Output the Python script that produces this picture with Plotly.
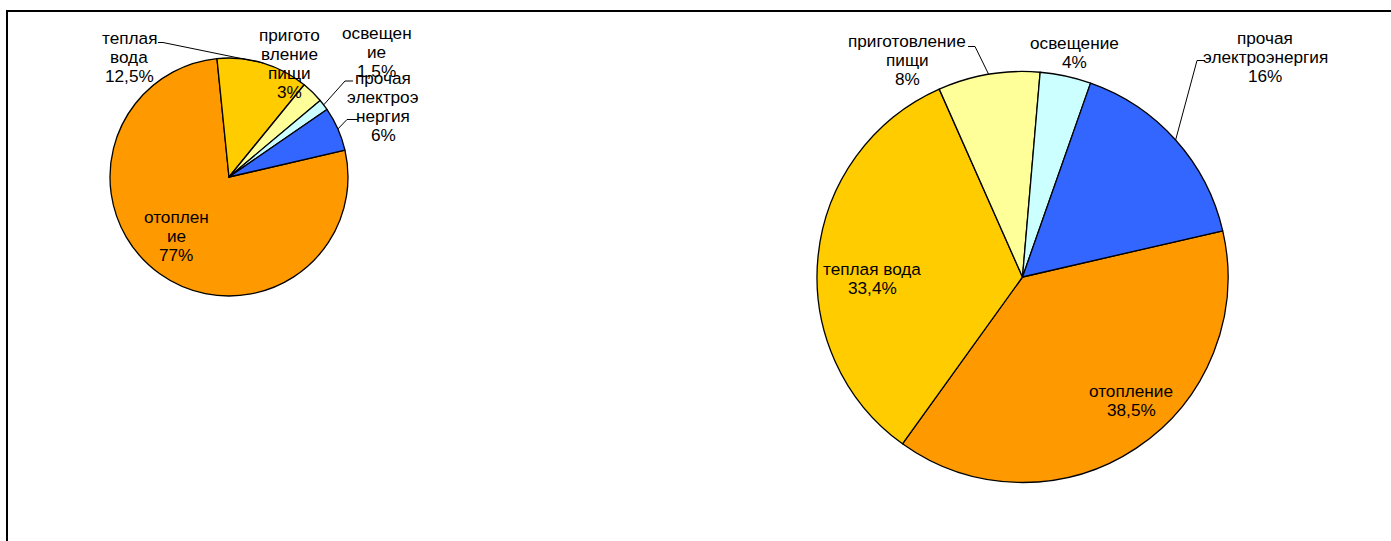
import math
import plotly.graph_objects as go

# Energy use structure, percent
categories = ["отопление", "теплая вода", "приготовление пищи", "освещение", "прочая электроэнергия"]
colors = ["#FF9900", "#FFCC00", "#FFFF99", "#CCFFFF", "#3366FF"]

left_values = [77, 12.5, 3, 1.5, 6]
left_names = [["отоплен", "ие"], ["теплая", "вода"], ["пригото", "вление", "пищи"], ["освещен", "ие"],
              ["прочая", "электроэ", "нергия"]]

right_values = [38.5, 33.4, 8, 4, 16]
right_names = [["отопление"], ["теплая вода"], ["приготовление", "пищи"], ["освещение"],
               ["прочая", "электроэнергия"]]

W, H = 1391, 541
FONT = "Liberation Sans, Arial, sans-serif"
FONT_SIZE = 17.2
LINE_STEP = 19
ROTATION = 77

# pie geometry in pixels: centre x, centre y, radius
left_geo = (229, 177, 119)
right_geo = (1022.5, 277, 205.5)

# label block centres in pixels, same order as categories
left_label_pos = [(176, 236), (129, 57), (289, 63), (377, 52), (383, 106)]
right_label_pos = [(1131, 400), (872, 278), (907, 60), (1074, 52), (1265, 57)]

# leader lines: category index, label-side start (px), elbow (px)
left_leaders = [(1, (158, 42.5), (163, 42.5)), (3, (353, 81), (345, 81)), (4, (358, 119.5), (347, 119.5))]
right_leaders = [(2, (968, 46.5), (975, 46.5)), (4, (1205, 60.5), (1197, 60.5))]


def px(x):
    return x / W


def py(y):
    return 1 - y / H


def pct(v):
    return f"{v:g}".replace(".", ",") + "%"


def mid_edge(geo, values, idx):
    cx, cy, r = geo
    total = sum(values)
    before = sum(values[:idx])
    a = math.radians(ROTATION + 360 * (before + values[idx] / 2) / total)
    return cx + r * math.sin(a), cy - r * math.cos(a)


def domain(geo):
    cx, cy, r = geo
    return dict(x=[px(cx - r), px(cx + r)], y=[py(cy + r), py(cy - r)])


fig = go.Figure()
for values, geo in ((left_values, left_geo), (right_values, right_geo)):
    fig.add_trace(go.Pie(
        labels=categories, values=values, sort=False, direction="clockwise",
        rotation=ROTATION, domain=domain(geo), textinfo="none", hoverinfo="label+percent",
        marker=dict(colors=colors, line=dict(color="black", width=1.3)),
        showlegend=False,
    ))

annotations = []
for names, values, positions in ((left_names, left_values, left_label_pos),
                                 (right_names, right_values, right_label_pos)):
    for name, v, (x, y) in zip(names, values, positions):
        lines = name + [pct(v)]
        top = y - (len(lines) - 1) / 2 * LINE_STEP
        for i, line in enumerate(lines):
            annotations.append(dict(
                x=px(x), y=py(top + i * LINE_STEP), xref="paper", yref="paper",
                xanchor="center", yanchor="middle", text=line, showarrow=False,
                font=dict(family=FONT, size=FONT_SIZE, color="black"),
            ))

shapes = [dict(type="rect", xref="paper", yref="paper", x0=px(7), x1=1.05, y0=-0.05, y1=py(11),
               line=dict(color="black", width=2), fillcolor="rgba(0,0,0,0)")]

for leaders, geo, values in ((left_leaders, left_geo, left_values), (right_leaders, right_geo, right_values)):
    for idx, (sx, sy), (ex, ey) in leaders:
        tx, ty = mid_edge(geo, values, idx)
        path = f"M {px(sx)} {py(sy)} L {px(ex)} {py(ey)} L {px(tx)} {py(ty)}"
        shapes.append(dict(type="path", xref="paper", yref="paper", path=path,
                           line=dict(color="black", width=1)))

fig.update_layout(
    width=W, height=H, margin=dict(l=0, r=0, t=0, b=0),
    paper_bgcolor="white", plot_bgcolor="white",
    annotations=annotations, shapes=shapes,
)

fig.write_html("out.html")
